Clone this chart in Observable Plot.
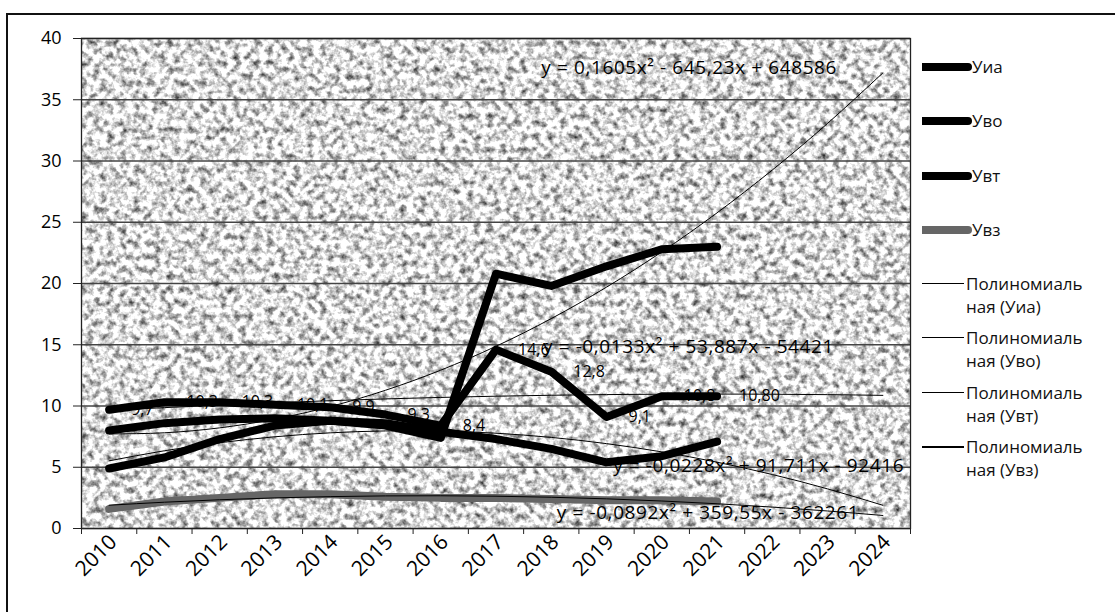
<!DOCTYPE html>
<html><head><meta charset="utf-8">
<script src="https://cdn.jsdelivr.net/npm/d3@7"></script>
<script src="https://cdn.jsdelivr.net/npm/@observablehq/plot@0.6"></script>
<style>
body{margin:0;background:#fff;}
#wrap{position:relative;width:1115px;height:612px;overflow:hidden;font-family:"Open Sans",Lato,sans-serif;}
#border{position:absolute;left:6px;top:13px;width:1200px;height:700px;border-left:2px solid #111;border-top:2px solid #111;box-sizing:border-box;}
#chart{position:absolute;left:0;top:0;}
.lg{position:absolute;font-size:17px;color:#111;white-space:nowrap;line-height:23px;}
.sw{position:absolute;border-radius:0 4px 4px 0;}
</style></head><body>
<div id="wrap"><div id="border"></div><div id="chart"></div><div id="legend"></div></div>
<script>
// ---- data ----
const years = [2010,2011,2012,2013,2014,2015,2016,2017,2018,2019,2020,2021];
const uia = [8.0, 8.6, 8.9, 9.0, 8.8, 8.4, 7.4, 20.8, 19.8, 21.4, 22.8, 23.0];
const uvo = [9.7, 10.3, 10.3, 10.1, 9.9, 9.3, 8.4, 14.6, 12.8, 9.1, 10.8, 10.8];
const uvt = [4.9, 5.8, 7.3, 8.4, 8.8, 8.6, 7.9, 7.3, 6.5, 5.4, 5.9, 7.1];
const uvz = [1.6, 2.2, 2.5, 2.8, 2.8, 2.6, 2.5, 2.5, 2.4, 2.3, 2.3, 2.2];
const uvoLabels = ["9,7","10,3","10,3","10,1","9,9","9,3","8,4","14,6","12,8","9,1","10,8","10,80"];
const seriesNames = ["Уиа","Уво","Увт","Увз"];
const seriesColors = ["#000","#000","#000","#666"];
const trendNames = ["Полиномиальная (Уиа)","Полиномиальная (Уво)","Полиномиальная (Увт)","Полиномиальная (Увз)"];
const axisYears = [2010,2011,2012,2013,2014,2015,2016,2017,2018,2019,2020,2021,2022,2023,2024];
const xLabels = ["2010","2011","2012","2013","2014","2015","2016","2017","2018","2019","2020","2021","2022","2023","2024"];
const yTicks = [0,5,10,15,20,25,30,35,40];
const eqTexts = ["y = 0,1605x² - 645,23x + 648586","y = -0,0133x² + 53,887x - 54421","y = -0,0228x² + 91,711x - 92416","y = -0,0892x² + 359,55x - 362261"];
const eqYear = [2017.82, 2017.85, 2019.12, 2018.1];
const eqValue = [37.6, 14.85, 5.1, 1.3];

// ---- build tables ----
const seriesValues = [uia, uvo, uvt, uvz];
const rows = [];
seriesValues.forEach((vals, s) => vals.forEach((v, i) => rows.push({series: seriesNames[s], year: years[i], value: v})));
const labelRows = uvo.map((v, i) => ({year: years[i], value: v, text: uvoLabels[i]}));

function quadFit(xs, ys) {
  const mx = d3.mean(xs);
  let S=[0,0,0,0,0], T=[0,0,0];
  xs.forEach((x,i)=>{const t=x-mx; for(let k=0;k<5;k++) S[k]+=t**k; for(let k=0;k<3;k++) T[k]+=ys[i]*t**k;});
  const M=[[S[0],S[1],S[2]],[S[1],S[2],S[3]],[S[2],S[3],S[4]]];
  const det=m=>m[0][0]*(m[1][1]*m[2][2]-m[1][2]*m[2][1])-m[0][1]*(m[1][0]*m[2][2]-m[1][2]*m[2][0])+m[0][2]*(m[1][0]*m[2][1]-m[1][1]*m[2][0]);
  const D=det(M);
  const co=[0,1,2].map(j=>det(M.map((r,i)=>r.map((v,k)=>k===j?T[i]:v)))/D);
  return x => co[0]+co[1]*(x-mx)+co[2]*(x-mx)**2;
}
const trendRows = [];
seriesValues.forEach((vals, s) => {
  const f = quadFit(years, vals);
  axisYears.forEach(y => trendRows.push({series: seriesNames[s], year: y, value: f(y)}));
});
const eqRows = eqTexts.map((t,i)=>({text:t, year:eqYear[i], value:eqValue[i]}));
const boundaries = axisYears.map(y => y - 0.5).concat([axisYears[axisYears.length-1] + 0.5]);

const font = "'Open Sans', Lato, sans-serif";
const chart = Plot.plot({
  width: 1115, height: 612,
  marginLeft: 81, marginRight: 205, marginTop: 38, marginBottom: 84,
  style: {fontFamily: font, fontSize: "17px", color: "#000", background: "transparent"},
  x: {type: "linear", domain: [boundaries[0], boundaries[boundaries.length-1]]},
  y: {domain: [0, 40]},
  marks: [
    Plot.frame({fill: "#c8c8c8", ariaLabel: "texture"}),
    Plot.gridY(yTicks, {stroke: "#444", strokeOpacity: 1, strokeWidth: 1.3}),
    Plot.axisY({ticks: yTicks, tickSize: 8, tickPadding: 12, label: null, fontSize: 18, stroke: "#222"}),
    Plot.axisX({ticks: boundaries, tickSize: 6, tickFormat: () => "", label: null, stroke: "#222"}),
    Plot.axisX({ticks: axisYears, tickSize: 0, tickRotate: -45, tickPadding: 10, tickFormat: (d, i) => xLabels[i], label: null, fontSize: 21, dx: 4}),
    Plot.text(labelRows, {x: "year", y: "value", text: "text", textAnchor: "start", dx: 22, fontSize: 16, fill: "#000"}),
    Plot.line(rows, {x: "year", y: "value", z: "series", stroke: "series", strokeWidth: 8, strokeLinecap: "round", strokeLinejoin: "round"}),
    Plot.line(trendRows, {x: "year", y: "value", z: "series", stroke: "#000", strokeWidth: 1, curve: "natural"}),
    Plot.text(eqRows, {x: "year", y: "value", text: "text", textAnchor: "start", fontSize: 19, fill: "#000"}),
    Plot.frame({stroke: "#222", strokeWidth: 1.3})
  ],
  color: {domain: seriesNames, range: seriesColors}
});
document.getElementById("chart").appendChild(chart);
// equation letter spacing
const eqG = chart.querySelectorAll('g[aria-label="text"]');
if (eqG.length) eqG[eqG.length - 1].setAttribute("letter-spacing", "0.6");

// granite-like texture for the plot area
const NS = "http://www.w3.org/2000/svg";
const defs = document.createElementNS(NS, "defs");
defs.innerHTML = `<filter id="granite" x="0" y="0" width="1" height="1" color-interpolation-filters="sRGB">
  <feTurbulence type="fractalNoise" baseFrequency="0.15" numOctaves="3" seed="7" result="n"/>
  <feColorMatrix in="n" type="matrix" values="1.6 0 0 0 0.06  1.6 0 0 0 0.06  1.6 0 0 0 0.06  0 0 0 0 1"/>
</filter>`;
chart.insertBefore(defs, chart.firstChild);
let tex = chart.querySelector('[aria-label="texture"]');
if (tex && tex.tagName.toLowerCase() === "g") tex = tex.querySelector("rect");
if (tex) tex.setAttribute("filter", "url(#granite)");

// legend
const lg = document.getElementById("legend");
const rowY = [67, 121, 176, 230];
seriesNames.forEach((n, i) => {
  const sw = document.createElement("div");
  sw.className = "sw";
  sw.style.cssText = `left:922px;top:${rowY[i]-4}px;width:50px;height:8px;background:${seriesColors[i]};`;
  lg.appendChild(sw);
  const t = document.createElement("div");
  t.className = "lg";
  t.style.cssText = `left:972px;top:${rowY[i]-12}px;`;
  t.textContent = n;
  lg.appendChild(t);
});
const tY = [283, 337, 392, 446];
trendNames.forEach((n, i) => {
  const sw = document.createElement("div");
  sw.style.cssText = `position:absolute;left:922px;top:${tY[i]}px;width:42px;height:${i===3?2:1}px;background:#000;`;
  lg.appendChild(sw);
  const t = document.createElement("div");
  t.className = "lg";
  t.style.cssText = `left:966px;top:${tY[i]-11}px;`;
  const parts = n.split(" ");
  t.innerHTML = parts[0].slice(0, 11) + "<br>" + parts[0].slice(11) + " " + parts[1];
  lg.appendChild(t);
});
</script>
</body></html>
